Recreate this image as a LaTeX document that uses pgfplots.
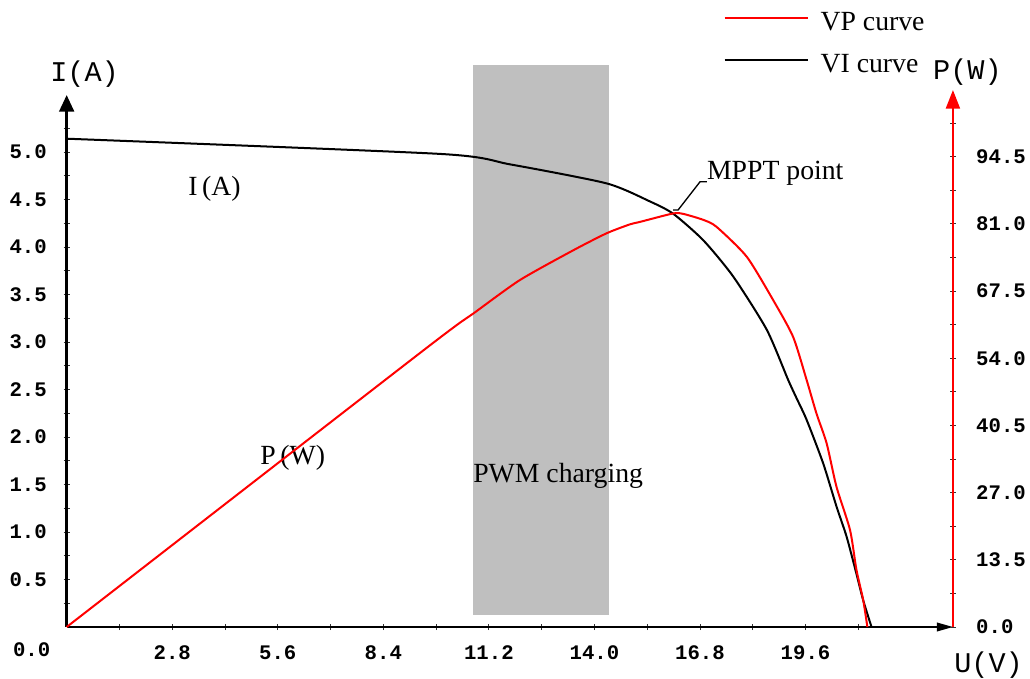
\documentclass[border=0pt]{standalone}
\usepackage{fontspec}
\setmainfont{Liberation Serif}
\newfontfamily\monofont{Liberation Mono}
\usepackage{pgfplots}
\usepackage{pgfplotstable}
\pgfplotsset{compat=1.18}
\usetikzlibrary{arrows.meta}

\definecolor{pwmgray}{RGB}{191,191,191}
\newcommand\tickfont{\monofont\bfseries\fontsize{15.5}{18}\selectfont}
\newcommand\labfont{\monofont\fontsize{21.4}{25}\selectfont}
\newcommand\txtfont{\fontsize{20.8}{24}\selectfont}

% U (V) against I (A)
\pgfplotstableread{
U     I
0     5.14
9.90  4.98
11.76 4.87
14.32 4.67
15.47 4.48
16.09 4.35
16.89 4.07
17.68 3.69
18.57 3.13
19.14 2.60
19.36 2.41
19.63 2.18
20.07 1.72
20.42 1.27
20.69 0.95
20.95 0.56
21.13 0.28
21.35 0
}\vicurve

% U (V) against P (W)
\pgfplotstableread{
U     P
0     0
9.50  55.8
10.79 63.0
12.02 69.7
13.44 75.7
14.32 79.1
14.94 80.9
15.21 81.4
16.09 83.1
16.36 83.0
16.89 81.8
17.24 80.4
18.04 74.4
18.74 65.7
19.27 58.3
19.63 49.6
19.89 42.9
20.16 36.9
20.42 28.2
20.78 19.5
20.95 11.5
21.13 5.4
21.24 0
}\vpcurve

\pgfplotsset{
  pvbase/.style={
    scale only axis, width=664.7pt,
    xmin=0, xmax=23.51, ymin=0,
    clip=false,
    tick align=inside,
    major tick length=4.5pt, minor tick length=4.5pt,
    tick style={black!80, line width=0.6pt},
    ticklabel style={font=\tickfont},
  },
}

\begin{document}
\begin{tikzpicture}
\begin{axis}[
    pvbase,
    height=399pt, ymax=5.6,
    axis x line=bottom, axis y line=left,
    x axis line style={line width=1pt, -{Triangle[length=12pt,width=6.5pt]}},
    y axis line style={line width=2.2pt, -{Triangle[length=12.5pt,width=11pt]}},
    xtick={2.8,5.6,8.4,11.2,14,16.8,19.6},
    xticklabels={2.8,5.6,8.4,11.2,14.0,16.8,19.6},
    minor xtick={1.4,4.2,7,9.8,12.6,15.4,18.2,21},
    ytick={0.5,1,1.5,2,2.5,3,3.5,4,4.5,5},
    yticklabels={0.5,1.0,1.5,2.0,2.5,3.0,3.5,4.0,4.5,5.0},
    minor ytick={0.25,0.75,1.25,1.75,2.25,2.75,3.25,3.75,4.25,4.75,5.25},
    xticklabel style={anchor=base, inner sep=0pt, yshift=-22.3pt},
    yticklabel style={anchor=east, inner sep=0pt, xshift=-12.5pt},
]
  % PWM charging band
  \addplot[draw=none, fill=pwmgray] coordinates {
    (10.77,0.126) (14.38,0.126) (14.38,5.92) (10.77,5.92)
  } -- cycle;
  \addplot[black, line width=1.5pt, smooth, tension=0.4] table[x=U, y=I] {\vicurve};

  \coordinate (O) at (axis cs:0,0);
  \node[anchor=base west, inner sep=0pt, font=\txtfont] at (axis cs:3.22,4.54) {I\,(A)};
  \node[anchor=base west, inner sep=0pt, font=\txtfont] at (axis cs:5.13,1.71) {P\,(W)};
  \node[anchor=base west, inner sep=0pt, font=\txtfont] at (axis cs:10.78,1.52) {PWM charging};
  \node[anchor=base west, inner sep=0pt, font=\txtfont] at (axis cs:16.98,4.71) {MPPT point};
  \draw[black, line width=1pt] (axis cs:16.09,4.39) -- (axis cs:16.22,4.39)
    -- (axis cs:16.80,4.686) -- (axis cs:16.98,4.686);
  \node[anchor=base west, inner sep=0pt, font=\labfont] at (axis cs:-0.44,5.74) {I(A)};
  \node[anchor=base west, inner sep=0pt, font=\labfont] at (axis cs:22.98,5.76) {P(W)};
  \node[anchor=base west, inner sep=0pt, font=\labfont] at (axis cs:23.54,-0.48) {U(V)};
  \node[anchor=base west, inner sep=0pt, font=\tickfont] at (axis cs:-1.43,-0.31) {0.0};
\end{axis}

\begin{axis}[
    pvbase,
    height=402.75pt, ymax=107.9,
    axis x line=none, axis y line=right,
    y axis line style={red, line width=1.6pt, -{Triangle[length=14pt,width=10.5pt]}},
    ytick={0,13.5,27,40.5,54,67.5,81,94.5},
    yticklabels={0.0,13.5,27.0,40.5,54.0,67.5,81.0,94.5},
    minor ytick={6.75,20.25,33.75,47.25,60.75,74.25,87.75,101.25},
    yticklabel style={anchor=west, inner sep=0pt, xshift=15pt},
    legend image code/.code={\draw[#1] (0pt,3.25pt) -- (62.5pt,3.25pt);},
    legend style={draw=none, fill=none, at={(0.741,1.1453)}, anchor=north west,
      inner sep=0pt, font=\txtfont, row sep=16.5pt, column sep=8.7pt,
      nodes={inner sep=0pt}},
    legend cell align=left,
]
  \addplot[red, line width=1.5pt, smooth, tension=0.4] table[x=U, y=P] {\vpcurve};
  \addlegendentry{VP curve}
  \addlegendimage{black, line width=1.5pt}
  \addlegendentry{VI curve}
\end{axis}

\pgfresetboundingbox
\path[use as bounding box] ([shift={(-50pt,-38.25pt)}]O) rectangle ([shift={(722.5pt,470.25pt)}]O);
\end{tikzpicture}
\end{document}
